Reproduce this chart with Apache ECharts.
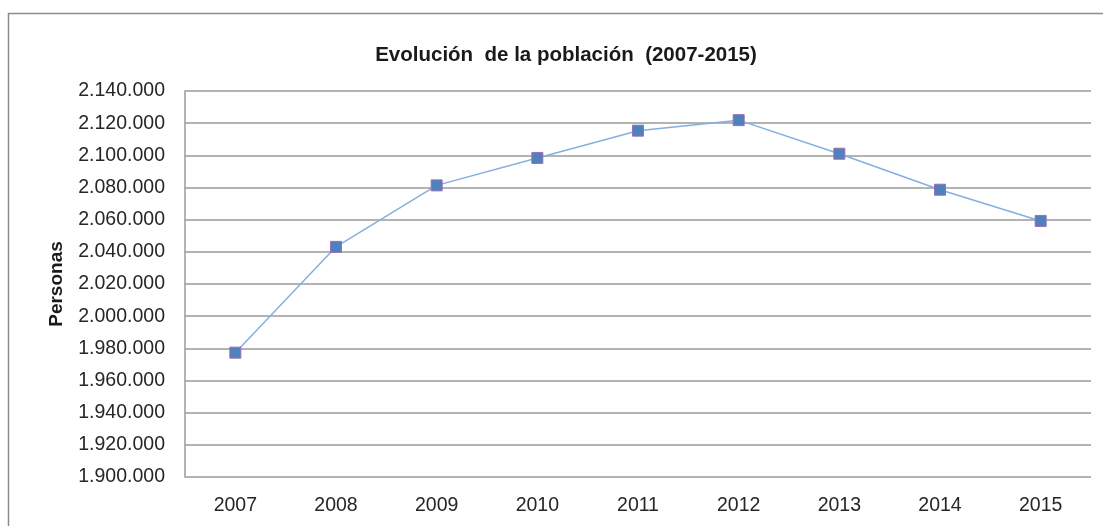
<!DOCTYPE html>
<html>
<head>
<meta charset="utf-8">
<script src="https://cdn.jsdelivr.net/npm/echarts@6/dist/echarts.min.js"></script>
<style>
    html, body { margin: 0; padding: 0; background: #fff; }
    #chart { width: 1103px; height: 526px; }
</style>
</head>
<body>
<div id="chart"></div>
<script>
// poblacion por anio
var years = ['2007', '2008', '2009', '2010', '2011', '2012', '2013', '2014', '2015'];
var population = [1977304, 2043100, 2081313, 2098373, 2115334, 2121888, 2100998, 2078611, 2059191];
var yMin = 1900000;
var yMax = 2140000;
var yStep = 20000;

function formatThousands(v) {
    return String(v).replace(/\B(?=(\d{3})+(?!\d))/g, '.');
}

var myChart = echarts.init(document.getElementById('chart'));
var font = 'Liberation Sans';
var option = {
    backgroundColor: '#fff',
    animation: false,
    title: {
        text: 'Evolución  de la población  (2007-2015)',
        left: 561,
        textAlign: 'center',
        top: 40,
        textStyle: { fontFamily: font, fontSize: 20.5, fontWeight: 'bold', color: '#1a1a1a' }
    },
    graphic: [{
        type: 'rect',
        shape: { x: 8.5, y: 13.5, width: 1110, height: 530 },
        style: { fill: 'none', stroke: '#8c8c8c', lineWidth: 1.5 },
        silent: true
    }],
    grid: { left: 185, right: 12, top: 91, bottom: 49 },
    xAxis: {
        type: 'category',
        data: years,
        axisLine: { show: false },
        axisTick: { show: false },
        axisLabel: { margin: 19, fontFamily: font, fontSize: 19.5, color: '#262626' }
    },
    yAxis: {
        type: 'value',
        min: yMin,
        max: yMax,
        interval: yStep,
        name: 'Personas',
        nameLocation: 'middle',
        nameRotate: 90,
        nameGap: 119,
        nameTextStyle: { fontFamily: font, fontSize: 19, fontWeight: 'bold', color: '#1a1a1a' },
        axisLine: { show: true, lineStyle: { color: '#9a9a9a', width: 1.5 } },
        axisTick: { show: false },
        splitLine: { lineStyle: { color: '#9a9a9a', width: 1.5 } },
        axisLabel: {
            margin: 20,
            fontFamily: font,
            fontSize: 19.5,
            color: '#262626',
            formatter: formatThousands
        }
    },
    series: [{
        type: 'line',
        data: population,
        symbol: 'rect',
        symbolSize: 11,
        lineStyle: { color: '#86aede', width: 1.5 },
        itemStyle: { color: '#4f81bd', borderColor: '#9a6fb5', borderWidth: 1 }
    }]
};
myChart.setOption(option);
</script>
</body>
</html>
